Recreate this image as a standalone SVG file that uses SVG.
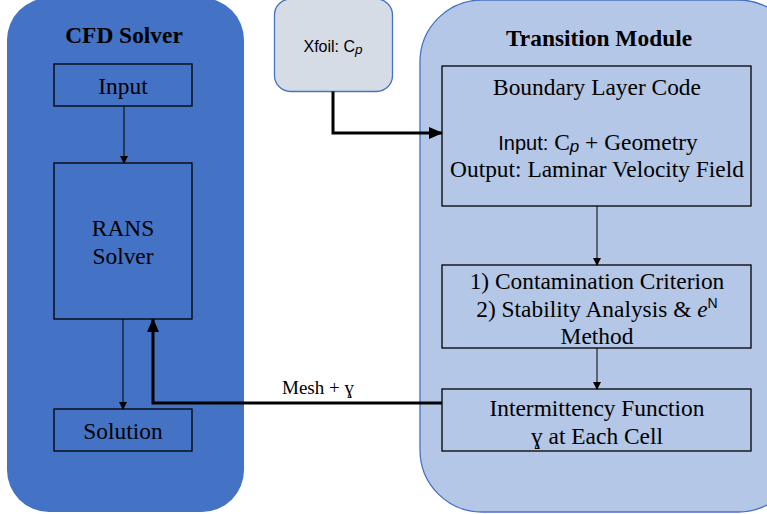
<svg xmlns="http://www.w3.org/2000/svg" width="767" height="514" viewBox="0 0 767 514">
<defs>
<style>
.t{font-family:"Liberation Serif","Times New Roman",serif;font-size:23.4px;fill:#000;text-anchor:middle}
.b{font-weight:bold}
.s{font-family:"Liberation Sans",Arial,sans-serif}
.box{fill:none;stroke:#000;stroke-width:1.3}
.thin{fill:none;stroke:#000;stroke-width:1}
.thick{fill:none;stroke:#000;stroke-width:3}
</style>
<marker id="ah" markerWidth="8" markerHeight="8" refX="7" refY="4" orient="auto" markerUnits="userSpaceOnUse"><path d="M0,0 L8,4 L0,8 z" fill="#000"/></marker>
<marker id="ahb" markerWidth="14" markerHeight="12" refX="13" refY="6" orient="auto" markerUnits="userSpaceOnUse"><path d="M0,0 L14,6 L0,12 z" fill="#000"/></marker>
</defs>
<rect width="767" height="514" fill="#fff"/>
<g id="cfd-solver">
<rect x="7" y="-2" width="237" height="514" rx="42" fill="#4472C4"/>
<text class="t b" x="124" y="43">CFD Solver</text>
</g>
<g id="transition-module">
<rect x="420" y="0" width="380" height="512" rx="62" fill="#B4C7E7" stroke="#4472C4" stroke-width="1.3"/>
<text class="t b" x="599" y="46">Transition Module</text>
</g>
<g id="xfoil">
<rect x="274.5" y="-1" width="118" height="92.5" rx="16" fill="#D6DCE5" stroke="#4472C4" stroke-width="1.3"/>
<text class="t s" x="333" y="52" style="font-size:16px">Xfoil: C<tspan font-style="italic" font-size="13.5" dy="2">p</tspan></text>
</g>
<g id="input">
<rect class="box" x="54" y="64" width="138" height="42"/>
<text class="t" x="123" y="94">Input</text>
</g>
<g id="rans-solver">
<rect class="box" x="54" y="163" width="138" height="156"/>
<text class="t" x="123" y="236">RANS</text>
<text class="t" x="123" y="264">Solver</text>
</g>
<g id="solution">
<rect class="box" x="54" y="409" width="138" height="42"/>
<text class="t" x="123" y="439">Solution</text>
</g>
<g id="boundary-layer-code">
<rect class="box" x="442" y="66" width="309" height="140"/>
<text class="t" x="597" y="95">Boundary Layer Code</text>
<text class="t" x="598" y="150"><tspan class="s" font-size="20">Input:</tspan> C<tspan class="s" font-style="italic" font-size="17" dy="2">p</tspan><tspan dy="-2"> + Geometry</tspan></text>
<text class="t" x="597" y="177">Output: Laminar Velocity Field</text>
</g>
<g id="transition-criteria">
<rect class="box" x="442" y="265" width="309" height="83"/>
<text class="t" x="597" y="289">1) Contamination Criterion</text>
<text class="t" x="597" y="317">2) Stability Analysis &amp; <tspan font-style="italic">e</tspan><tspan class="s" font-size="14" dy="-9">N</tspan></text>
<text class="t" x="597" y="344">Method</text>
</g>
<g id="intermittency">
<rect class="box" x="442" y="389" width="309" height="62"/>
<text class="t" x="597" y="416">Intermittency Function</text>
<text class="t" x="597" y="444">ɣ at Each Cell</text>
</g>
<g id="connectors">
<line class="thin" x1="124" y1="106" x2="124" y2="163" marker-end="url(#ah)"/>
<line class="thin" x1="123" y1="319" x2="123" y2="409" marker-end="url(#ah)"/>
<line class="thin" x1="597" y1="206" x2="597" y2="265" marker-end="url(#ah)"/>
<line class="thin" x1="597" y1="348" x2="597" y2="389" marker-end="url(#ah)"/>
<polyline class="thick" points="333,91.5 333,133 442,133" marker-end="url(#ahb)"/>
<polyline class="thick" points="442,403 153,403 153,319" marker-end="url(#ahb)"/>
<text class="t" x="318" y="394" style="font-size:19px">Mesh + ɣ</text>
</g>
</svg>
